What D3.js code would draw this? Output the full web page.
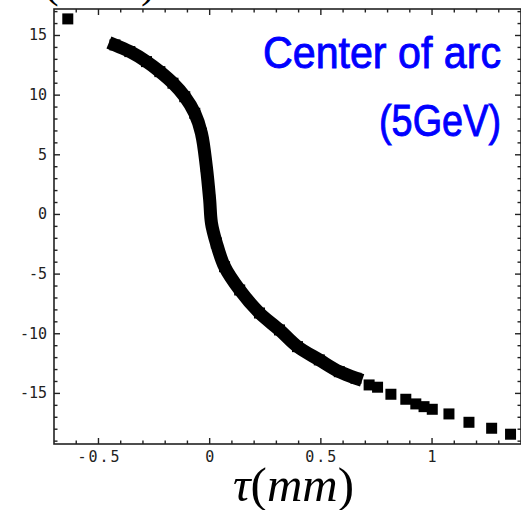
<!DOCTYPE html>
<html>
<head>
<meta charset="utf-8">
<script src="https://cdn.jsdelivr.net/npm/d3@7"></script>
<style>
  body { margin: 0; background: #fff; }
  svg { display: block; }
</style>
</head>
<body>
<svg></svg>
<script>
/* values (tau in mm, center of arc) */
var denseTau = [-0.426, -0.359, -0.284, -0.224, -0.165, -0.112, -0.067, -0.037, -0.015, 0.0, 0.008, 0.030, 0.067, 0.135, 0.224, 0.314, 0.395, 0.493, 0.583, 0.658];
var denseY   = [14.21, 13.65, 12.81, 11.97, 11.0, 9.87, 8.48, 6.81, 4.01, 1.22, -0.71, -2.39, -4.38, -6.33, -8.26, -9.68, -11.08, -12.19, -13.18, -13.73];
var sparseTau = [-0.638, 0.717, 0.755, 0.815, 0.882, 0.927, 0.964, 1.001, 1.076, 1.166, 1.268, 1.353];
var sparseY   = [16.39, -14.29, -14.48, -15.07, -15.49, -15.88, -16.11, -16.33, -16.72, -17.42, -17.92, -18.42];

var xMajor = [-0.5, 0, 0.5, 1];
var xLabels = ['-0.5', '0', '0.5', '1'];
var yMajor = [-15, -10, -5, 0, 5, 10, 15];
var yLabels = ['-15', '-10', '-5', '0', '5', '10', '15'];
var titleLines = ['Center of arc', '(5GeV)'];

/* d3.js setting */
var svgWidth = 521;
var svgHeight = 510;
var frame = {left: 54, right: 521, top: 9, bottom: 444};
var scale = {};

var svg = d3.select('svg')
    .attr('width', svgWidth)
    .attr('height', svgHeight);

setScale();
drawFrame();
drawPoints();
drawText();

function setScale(){
  scale.x = d3.scaleLinear()
      .domain([-0.7, 1.4])
      .range([frame.left, frame.right]);
  scale.y = d3.scaleLinear()
      .domain([-19.24, 17.22])
      .range([frame.bottom, frame.top]);
}

function drawFrame(){
  var g = svg.append('g');
  g.append('rect')
      .attr('x', frame.left)
      .attr('y', frame.top)
      .attr('width', frame.right - frame.left)
      .attr('height', frame.bottom - frame.top)
      .attr('fill', 'none')
      .attr('stroke', '#222')
      .attr('stroke-width', 1.6);

  // minor ticks every 0.1 / every 1
  var xMinor = d3.range(-6, 14).map(function(d){ return d / 10; });
  var yMinor = d3.range(-19, 18);

  var isMajorX = function(v){ return xMajor.some(function(m){ return Math.abs(m - v) < 1e-6; }); };
  var isMajorY = function(v){ return yMajor.indexOf(v) >= 0; };

  xMinor.forEach(function(v){
    var len = isMajorX(v) ? 6 : 3.5;
    var px = scale.x(v);
    g.append('line').attr('x1', px).attr('x2', px)
        .attr('y1', frame.bottom).attr('y2', frame.bottom - len)
        .attr('stroke', '#222').attr('stroke-width', 1.4);
    g.append('line').attr('x1', px).attr('x2', px)
        .attr('y1', frame.top).attr('y2', frame.top + len)
        .attr('stroke', '#222').attr('stroke-width', 1.4);
  });
  yMinor.forEach(function(v){
    var len = isMajorY(v) ? 6 : 3.5;
    var py = scale.y(v);
    g.append('line').attr('x1', frame.left).attr('x2', frame.left + len)
        .attr('y1', py).attr('y2', py)
        .attr('stroke', '#222').attr('stroke-width', 1.4);
    g.append('line').attr('x1', frame.right).attr('x2', frame.right - len)
        .attr('y1', py).attr('y2', py)
        .attr('stroke', '#222').attr('stroke-width', 1.4);
  });

  g.selectAll('.xlab')
      .data(xMajor)
      .enter()
      .append('text')
      .attr('class', 'xlab')
      .attr('x', function(d){ return scale.x(d) + 1; })
      .attr('y', 462)
      .attr('text-anchor', 'middle')
      .attr('font-family', 'DejaVu Sans Mono, monospace')
      .attr('font-size', 15)
      .attr('letter-spacing', 2)
      .attr('fill', '#222')
      .text(function(d, i){ return xLabels[i]; });

  g.selectAll('.ylab')
      .data(yMajor)
      .enter()
      .append('text')
      .attr('class', 'ylab')
      .attr('x', 47)
      .attr('y', function(d){ return scale.y(d) + 5; })
      .attr('text-anchor', 'end')
      .attr('font-family', 'DejaVu Sans Mono, monospace')
      .attr('font-size', 15)
      .attr('fill', '#222')
      .text(function(d, i){ return yLabels[i]; });
}

function drawPoints(){
  var dense = denseTau.map(function(t, i){ return {x: t, y: denseY[i]}; });
  var sparse = sparseTau.map(function(t, i){ return {x: t, y: sparseY[i]}; });

  // the overlapping markers form a thick band
  var line = d3.line()
      .x(function(d){ return scale.x(d.x); })
      .y(function(d){ return scale.y(d.y); })
      .curve(d3.curveCatmullRom);

  svg.append('path')
      .datum(dense)
      .attr('d', line)
      .attr('fill', 'none')
      .attr('stroke', '#000')
      .attr('stroke-width', 13)
      .attr('stroke-linecap', 'square');

  svg.selectAll('.pt')
      .data(dense.concat(sparse))
      .enter()
      .append('rect')
      .attr('class', 'pt')
      .attr('x', function(d){ return scale.x(d.x) - 5.5; })
      .attr('y', function(d){ return scale.y(d.y) - 5.5; })
      .attr('width', 11)
      .attr('height', 11)
      .attr('fill', '#000');
}

function drawText(){
  var sans = 'Liberation Sans Narrow, Arial Narrow, Liberation Sans, Arial, sans-serif';
  svg.append('text')
      .attr('x', 501)
      .attr('y', 68)
      .attr('text-anchor', 'end')
      .attr('font-family', sans)
      .attr('font-size', 45)
      .attr('fill', '#0000ff')
      .attr('stroke', '#0000ff')
      .attr('stroke-width', 0.9)
      .attr('textLength', 238)
      .attr('lengthAdjust', 'spacingAndGlyphs')
      .text(titleLines[0]);

  svg.append('text')
      .attr('x', 501)
      .attr('y', 136)
      .attr('text-anchor', 'end')
      .attr('font-family', sans)
      .attr('font-size', 45)
      .attr('fill', '#0000ff')
      .attr('stroke', '#0000ff')
      .attr('stroke-width', 0.9)
      .attr('textLength', 122)
      .attr('lengthAdjust', 'spacingAndGlyphs')
      .text(titleLines[1]);

  // x axis label
  var lab = svg.append('text')
      .attr('x', 233)
      .attr('y', 501)
      .attr('font-family', 'Liberation Serif, Times New Roman, serif')
      .attr('font-size', 49)
      .attr('fill', '#000');
  lab.append('tspan').attr('font-style', 'italic').text('τ');
  lab.append('tspan').text('(');
  lab.append('tspan').attr('font-style', 'italic').text('mm');
  lab.append('tspan').text(')');

  // panel label cut off at the top edge
  svg.append('text')
      .attr('x', 44)
      .attr('y', -3)
      .attr('font-family', 'Liberation Serif, serif')
      .attr('font-size', 44)
      .text('(');
  svg.append('text')
      .attr('x', 141)
      .attr('y', -3)
      .attr('font-family', 'Liberation Serif, serif')
      .attr('font-size', 44)
      .text(')');
}
</script>
</body>
</html>
